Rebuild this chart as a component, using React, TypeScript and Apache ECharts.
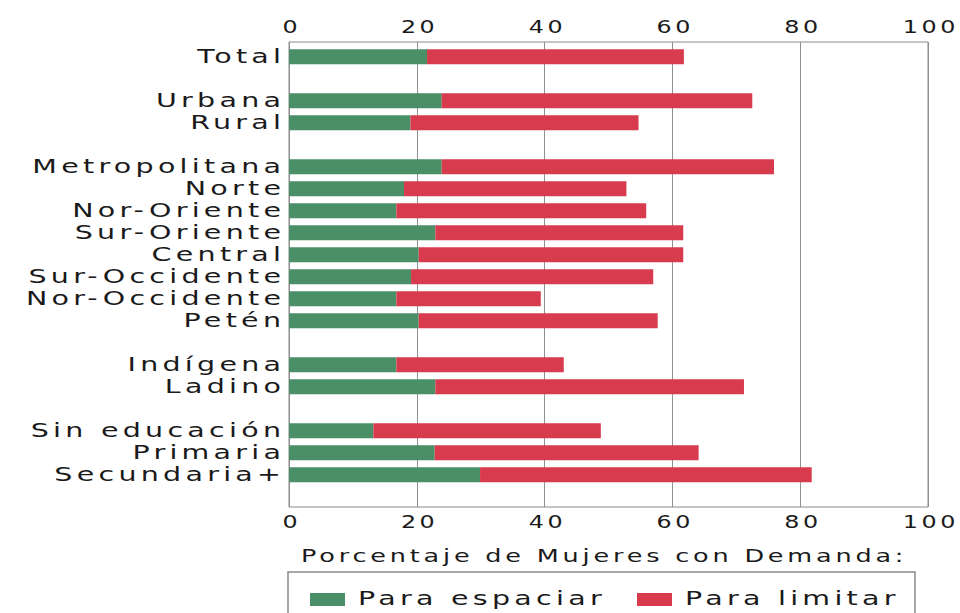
import React, { useEffect, useRef } from "react";
import * as echarts from "echarts";

// ---- Data ----
const groups: string[][] = [
  ["Total"],
  ["Urbana", "Rural"],
  [
    "Metropolitana",
    "Norte",
    "Nor-Oriente",
    "Sur-Oriente",
    "Central",
    "Sur-Occidente",
    "Nor-Occidente",
    "Petén",
  ],
  ["Indígena", "Ladino"],
  ["Sin educación", "Primaria", "Secundaria+"],
];

const paraEspaciar: number[] = [
  21.6, 23.9, 19.0, 23.9, 18.0, 16.8, 22.9, 20.3, 19.1, 16.8, 20.3, 16.8, 22.9,
  13.2, 22.8, 29.9,
];
const paraLimitar: number[] = [
  40.2, 48.6, 35.7, 52.0, 34.8, 39.1, 38.8, 41.4, 37.9, 22.6, 37.4, 26.2, 48.3,
  35.6, 41.3, 51.9,
];

const xTicks: number[] = [0, 20, 40, 60, 80, 100];
const seriesNames: string[] = ["Para espaciar", "Para limitar"];
const axisTitle = "Porcentaje de Mujeres con Demanda:";

const GREEN = "#4a8f67";
const RED = "#d83b4d";
const TEXT = "#1a1a1a";
const FONT = "DejaVu Sans";
const SX = 1.5; // horizontal stretch of the extended typeface
const LS = 0.15; // letter spacing in em (set in CSS below)

function txt(
  id: string,
  text: string,
  x: number,
  y: number,
  size: number,
  align: "left" | "center" | "right",
  sx: number = SX
) {
  // compensate the trailing letter-spacing that the browser adds
  const trail = LS * size * sx;
  const dx = align === "right" ? trail : align === "center" ? trail / 2 : 0;
  return {
    type: "text",
    id,
    x: x + dx,
    y,
    scaleX: sx,
    silent: true,
    style: {
      text,
      fontFamily: FONT,
      fontSize: size,
      fill: TEXT,
      align,
      verticalAlign: "middle",
      textAlign: align,
      textVerticalAlign: "middle",
    },
  };
}

export default function App() {
  const ref = useRef<HTMLDivElement>(null);

  useEffect(() => {
    if (!ref.current) return;
    const chart = echarts.init(ref.current, undefined, { renderer: "svg" });

    // Build category list with gap slots between groups
    const cats: string[] = [];
    const esp: (number | null)[] = [];
    const lim: (number | null)[] = [];
    let k = 0;
    groups.forEach((g, gi) => {
      if (gi > 0) {
        cats.push("__gap" + gi);
        esp.push(null);
        lim.push(null);
      }
      g.forEach((name) => {
        cats.push(name);
        esp.push(paraEspaciar[k]);
        lim.push(paraLimitar[k]);
        k++;
      });
    });

    const plotLeft = 289;
    const plotWidth = 639;
    const frameTop = 42;
    const frameHeight = 465;

    chart.setOption({
      animation: false,
      backgroundColor: "#ffffff",
      grid: [
        {
          left: plotLeft,
          top: frameTop,
          width: plotWidth,
          height: frameHeight,
          show: true,
          borderColor: "#8a8a8a",
          borderWidth: 1,
          backgroundColor: "transparent",
        },
        {
          left: plotLeft,
          top: 45.7,
          width: plotWidth,
          height: 440,
        },
      ],
      xAxis: [
        {
          gridIndex: 0,
          type: "value",
          position: "top",
          min: 0,
          max: 100,
          interval: 20,
          axisLine: { show: false },
          axisTick: { show: false },
          axisLabel: { show: false },
          splitLine: { show: true, lineStyle: { color: "#8f8f8f", width: 1 } },
        },
        {
          gridIndex: 1,
          type: "value",
          min: 0,
          max: 100,
          show: false,
        },
      ],
      yAxis: [
        { gridIndex: 0, type: "value", show: false },
        {
          gridIndex: 1,
          type: "category",
          inverse: true,
          data: cats,
          axisLine: { show: false },
          axisTick: { show: false },
          splitLine: { show: false },
          axisLabel: { show: false },
        },
      ],
      series: [
        {
          name: seriesNames[0],
          type: "bar",
          stack: "total",
          xAxisIndex: 1,
          yAxisIndex: 1,
          barWidth: 15,
          data: esp,
          itemStyle: { color: GREEN },
        },
        {
          name: seriesNames[1],
          type: "bar",
          stack: "total",
          xAxisIndex: 1,
          yAxisIndex: 1,
          barWidth: 15,
          data: lim,
          itemStyle: { color: RED },
        },
      ],
    });

    // Labels drawn as stretched texts, positioned through the axes' scales
    const elements: any[] = [];
    const labelRight = 281;
    cats.forEach((c, i) => {
      if (c.startsWith("__gap")) return;
      const y = chart.convertToPixel({ yAxisIndex: 1 }, c) as number;
      elements.push(txt("cat" + i, c, labelRight, y, 19, "right"));
    });
    const topY = 27;
    const bottomY = 522;
    xTicks.forEach((v) => {
      const x = (chart.convertToPixel({ xAxisIndex: 0 }, v) as number) + 1;
      elements.push(txt("tt" + v, String(v), x, topY, 17, "center", 1.4));
      elements.push(txt("tb" + v, String(v), x, bottomY, 17, "center", 1.4));
    });
    elements.push(txt("title", axisTitle, 301, 556, 17, "left"));

    // Legend
    elements.push({
      type: "rect",
      id: "legbox",
      silent: true,
      shape: { x: 288, y: 572, width: 627, height: 60 },
      style: { fill: "none", stroke: "#8a8a8a", lineWidth: 1.5 },
    });
    const legendX = [310, 637];
    const legendColors = [GREEN, RED];
    seriesNames.forEach((n, i) => {
      elements.push({
        type: "rect",
        id: "legsw" + i,
        silent: true,
        shape: { x: legendX[i], y: 593, width: 35, height: 13 },
        style: { fill: legendColors[i] },
      });
      elements.push(txt("legtx" + i, n, legendX[i] + 48, 599, 19, "left"));
    });

    chart.setOption({ graphic: { elements } });

    return () => {
      chart.dispose();
    };
  }, []);

  return (
    <>
      <style>{`body{margin:0;background:#fff}.echart-root text{letter-spacing:${LS}em;}`}</style>
      <div
        ref={ref}
        className="echart-root"
        style={{ position: "absolute", left: 0, top: 0, width: 960, height: 613 }}
      />
    </>
  );
}
